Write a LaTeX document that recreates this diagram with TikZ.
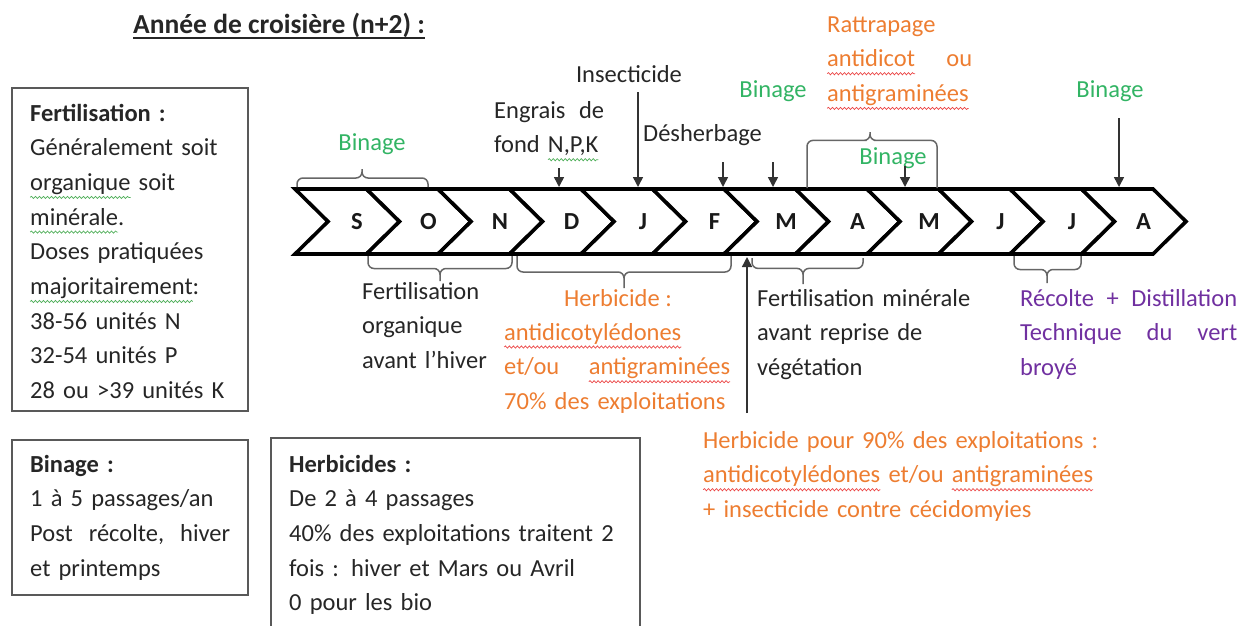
\documentclass[tikz,border=0pt]{standalone}
\usepackage{fontspec}
\setmainfont{Carlito}
\usetikzlibrary{arrows.meta, calc, decorations.pathmorphing}
\definecolor{binvert}{RGB}{50,180,100}
\definecolor{herbor}{RGB}{237,125,49}
\definecolor{recviolet}{RGB}{112,48,160}
\definecolor{fauterouge}{RGB}{235,70,70}
\definecolor{fautevert}{RGB}{80,175,90}
\newsavebox{\motbox}
% soulignement ondule (correcteur)
\newcommand{\faute}[2]{\sbox{\motbox}{#2}\leavevmode\rlap{\tikz[baseline=0pt, overlay]\draw[#1, line width=0.7pt, decorate, decoration={snake, amplitude=1.1pt, segment length=4pt}] (0pt,-7pt) -- (\the\wd\motbox,-7pt);}\usebox{\motbox}}
\newcommand{\fauter}[1]{\faute{fauterouge}{#1}}
\newcommand{\fautev}[1]{\faute{fautevert}{#1}}

\begin{document}
\begin{tikzpicture}[x=1pt, y=-1pt,
    texte/.style={font=\fontsize{24.5}{34.7}\selectfont, text=black!85, inner sep=0pt, align=left, text width=#1, anchor=base west},
    texte/.default=500pt,
    seul/.style={font=\fontsize{24.5}{28}\selectfont, text=black!85, inner sep=0pt, anchor=base},
    titre/.style={font=\fontsize{27.5}{32}\selectfont\bfseries, text=black!85, inner sep=0pt, anchor=base west},
    mois/.style={font=\fontsize{24.5}{28}\selectfont\bfseries, text=black!90, inner sep=0pt},
    chevron/.style={draw=black, line width=3.6pt, fill=white},
    cadre/.style={draw=black!65, line width=1.6pt},
    accol/.style={draw=black!60, line width=1.5pt, rounded corners=6pt},
    fleche/.style={draw=black!80, line width=1.5pt, -{Triangle[length=10pt, width=10pt]}}
  ]
  \useasboundingbox (0,0) rectangle (1241,625);
  \clip (0,0) rectangle (1241,625);

  % Titre
  \node[titre] (titre) at (133,33) {Année de croisière (n+2) :};
  \draw[line width=2pt, black!85] ($(titre.base west)+(0,4.5)$) -- ($(titre.base east)+(0,4.5)$);

  % Cadres de gauche
  \draw[cadre] (12,88) rectangle (248,411);
  \draw[cadre] (12,440) rectangle (248,595);
  \draw[cadre] (271,438) rectangle (640,660);
  \node[texte] (fert) at (30,121) {\textbf{Fertilisation :}\\Généralement soit\\\fautev{organique} soit\\\fautev{minérale}.\\Doses pratiquées\\\fautev{majoritairement}:\\38-56 unités N\\32-54 unités P\\28 ou >39 unités K};
  \node[texte=200pt] (binage) at (30,472) {\textbf{Binage :}\\1 à 5 passages/an\\Post\hfill récolte,\hfill hiver\\et printemps};
  \node[texte] (herbi) at (289,472) {\textbf{Herbicides :}\\De 2 à 4 passages\\40\% des exploitations traitent 2\\fois : hiver et Mars ou Avril\\0 pour les bio};

  % Frise des mois
  \foreach \m [count=\i from 0] in {S,O,N,D,J,F,M,A,M,J,J,A} {
    \draw[chevron] (295+71.5*\i,189) -- ++(71.5,0) -- ++(33,32.5) -- ++(-33,32.5) -- ++(-71.5,0) -- ++(33,-32.5) -- cycle;
    \node[mois] (m\i) at (295+71.5*\i+62,222) {\m};
  }

  % Interventions au-dessus
  \node[seul, text=binvert] (binSO) at (372,150) {Binage};
  \node[texte=110pt] (engrais) at (494,118) {Engrais\hfill de\\fond \fautev{N,P,K}};
  \node[seul] (insect) at (629,82) {Insecticide};
  \node[seul, anchor=base west] (desherb) at (643,141) {Désherbage};
  \node[seul, text=binvert] (binM) at (773,97) {Binage};
  \node[texte=145pt, text=herbor] (rattrap) at (827,32) {Rattrapage\\\fauter{antidicot}\hfill ou\\\fauter{antigraminées}};
  \node[seul, text=binvert] (binMai) at (893,164) {Binage};
  \node[seul, text=binvert] (binA) at (1110,97) {Binage};

  % Interventions au-dessous
  \node[texte] (fertorg) at (362,299) {Fertilisation\\organique\\avant l’hiver};
  \node[seul, text=herbor] (herbT) at (618,306) {Herbicide :};
  \node[texte=226pt, text=herbor] (herbH) at (504,340) {\fauter{antidicotylédones}\\et/ou\hfill \fauter{antigraminées}\\70\% des exploitations};
  \node[texte] (fertmin) at (757,306) {Fertilisation minérale\\avant reprise de\\végétation};
  \node[texte=217pt, text=recviolet] (recolte) at (1020,306) {Récolte\hfill +\hfill Distillation\\Technique\hfill du\hfill vert\\broyé};
  \node[texte, text=herbor] (herb90) at (703,448) {Herbicide pour 90\% des exploitations :\\\fauter{antidicotylédones} et/ou \fauter{antigraminées}\\+ insecticide contre cécidomyies};

  % Fleches
  \coordinate (pEng) at (559,168);  \coordinate (cEng) at (559,187);
  \coordinate (pIns) at (638,92);   \coordinate (cIns) at (638,187);
  \coordinate (pDes) at (723,162);  \coordinate (cDes) at (723,187);
  \coordinate (pBinM) at (773,162); \coordinate (cBinM) at (773,187);
  \coordinate (pBinMai) at (905,166); \coordinate (cBinMai) at (905,187);
  \coordinate (pBinA) at (1119,118); \coordinate (cBinA) at (1119,187);
  \coordinate (pHerb) at (747,413); \coordinate (cHerb) at (747,257);
  \draw[fleche] (pEng) -- (cEng);
  \draw[fleche] (pIns) -- (cIns);
  \draw[fleche] (pDes) -- (cDes);
  \draw[fleche] (pBinM) -- (cBinM);
  \draw[fleche] (pBinMai) -- (cBinMai);
  \draw[fleche] (pBinA) -- (cBinA);
  \draw[fleche] (pHerb) -- (cHerb);

  % Accolades
  \coordinate (acSO-g) at (297,187); \coordinate (acSO-d) at (428,187); \coordinate (acSO-p) at (362,169);
  \coordinate (acAM-g) at (807,188); \coordinate (acAM-d) at (937,188); \coordinate (acAM-p) at (870,132);
  \coordinate (acON-g) at (368,256); \coordinate (acON-d) at (512,256); \coordinate (acON-p) at (440,281);
  \coordinate (acDF-g) at (517,256); \coordinate (acDF-d) at (731,256); \coordinate (acDF-p) at (624,288);
  \coordinate (acMA-g) at (752,258); \coordinate (acMA-d) at (863,258); \coordinate (acMA-p) at (803,284);
  \coordinate (acJ-g) at (1014,256); \coordinate (acJ-d) at (1081,256); \coordinate (acJ-p) at (1047,283);
  \draw[accol] (acSO-g) |- ($(acSO-g)!.5!(acSO-p)$) -| (acSO-p) (acSO-d) |- ($(acSO-d)!.5!(acSO-p)$) -| (acSO-p);
  \draw[accol] (acAM-g) |- ($(acAM-g)!.85!(acAM-p)$) -| (acAM-p) (acAM-d) |- ($(acAM-d)!.85!(acAM-p)$) -| (acAM-p);
  \draw[accol] (acON-g) |- ($(acON-g)!.5!(acON-p)$) -| (acON-p) (acON-d) |- ($(acON-d)!.5!(acON-p)$) -| (acON-p);
  \draw[accol] (acDF-g) |- ($(acDF-g)!.5!(acDF-p)$) -| (acDF-p) (acDF-d) |- ($(acDF-d)!.5!(acDF-p)$) -| (acDF-p);
  \draw[accol] (acMA-g) |- ($(acMA-g)!.4!(acMA-p)$) -| (acMA-p) (acMA-d) |- ($(acMA-d)!.4!(acMA-p)$) -| (acMA-p);
  \draw[accol] (acJ-g) |- ($(acJ-g)!.5!(acJ-p)$) -| (acJ-p) (acJ-d) |- ($(acJ-d)!.5!(acJ-p)$) -| (acJ-p);
\end{tikzpicture}
\end{document}
